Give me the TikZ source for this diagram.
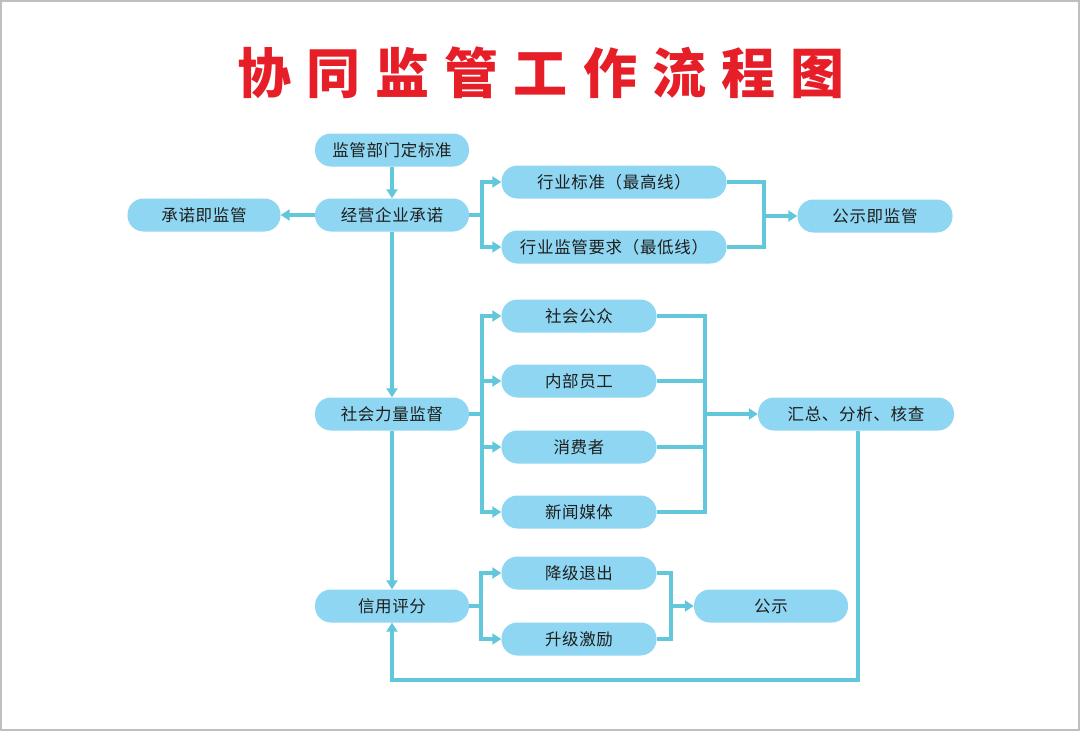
\documentclass[tikz,border=0pt]{standalone}
\usepackage{fontspec}
\usetikzlibrary{arrows.meta}
\newfontfamily\cjk[LetterSpace=4]{Noto Sans CJK SC}
\newfontfamily\cjktitle[LetterSpace=28]{Noto Sans CJK SC}
\definecolor{boxblue}{RGB}{142,214,241}
\definecolor{linecyan}{RGB}{98,199,218}
\definecolor{titlered}{RGB}{230,30,40}
\definecolor{textgray}{RGB}{30,30,30}

\begin{document}
\begin{tikzpicture}[x=1pt,y=-1pt,
  box/.style={fill=boxblue, rounded corners=16pt, minimum height=33pt, inner sep=0pt,
    font=\cjk\fontsize{16.5}{18}\selectfont, text=textgray},
  line/.style={draw=linecyan, line width=4pt},
  flow/.style={line, -{Triangle[length=9pt,width=11pt]}}]
\useasboundingbox (0,0) rectangle (1080,731);
\draw[gray!50, line width=1.5pt] (1,1) rectangle (1079,730);

\node[font=\cjktitle\bfseries\fontsize{54}{60}\selectfont, text=titlered] (title) at (541,73) {协同监管工作流程图};

\node[box, minimum width=154pt] (std) at (392,150) {监管部门定标准};
\node[box, minimum width=154pt] (commit) at (392,215) {经营企业承诺};
\node[box, minimum width=153pt] (promise) at (204,215) {承诺即监管};
\node[box, minimum width=225pt] (high) at (614,182) {行业标准（最高线）};
\node[box, minimum width=225pt] (low) at (614,247) {行业监管要求（最低线）};
\node[box, minimum width=155pt] (show) at (875,216) {公示即监管};

\node[box, minimum width=154pt] (social) at (392,414) {社会力量监督};
\node[box, minimum width=155pt] (public) at (579,316) {社会公众};
\node[box, minimum width=155pt] (staff) at (579,381) {内部员工};
\node[box, minimum width=155pt] (buyer) at (579,447) {消费者};
\node[box, minimum width=155pt] (media) at (579,512) {新闻媒体};
\node[box, minimum width=196pt] (sum) at (856,414) {汇总、分析、核查};

\node[box, minimum width=154pt] (credit) at (392,606) {信用评分};
\node[box, minimum width=155pt] (down) at (579,573) {降级退出};
\node[box, minimum width=155pt] (up) at (579,639) {升级激励};
\node[box, minimum width=154pt] (notice) at (771,606) {公示};

\coordinate (fa) at (482,215);
\coordinate (ja) at (764,216);
\coordinate (fb) at (482,414);
\coordinate (jb) at (705,414);
\coordinate (fc) at (481,606);
\coordinate (jc) at (671,606);

\draw[flow] (std) -- (commit);
\draw[flow] (commit) -- (promise);
\draw[flow] (commit.east) -- (fa) |- (high.west);
\draw[flow] (fa) |- (low.west);
\draw[line] (high.east) -| (ja) |- (low.east);
\draw[flow] (ja) -- (show);

\draw[flow] (commit) -- (social);
\foreach \n in {public,staff,buyer,media}{
  \draw[flow] (social.east) -- (fb) |- (\n.west);
  \draw[line] (\n.east) -| (jb);
}
\draw[flow] (jb) -- (sum);

\draw[flow] (social) -- (credit);
\draw[flow] (credit.east) -- (fc) |- (down.west);
\draw[flow] (fc) |- (up.west);
\draw[line] (down.east) -| (jc) |- (up.east);
\draw[flow] (jc) -- (notice);
\draw[flow] ([xshift=2pt]sum.south) -- ++(0,249) -| (credit.south);
\end{tikzpicture}
\end{document}
